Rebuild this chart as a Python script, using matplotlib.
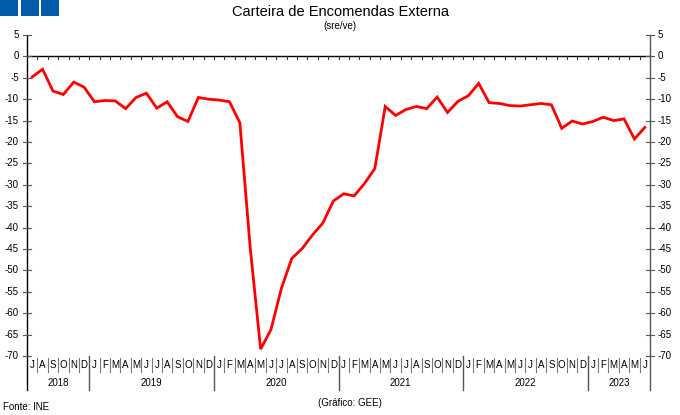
import numpy as np
import matplotlib
matplotlib.use('Agg')
import matplotlib.pyplot as plt
from matplotlib.patches import Rectangle

plt.rcParams['font.family'] = ['Liberation Sans', 'DejaVu Sans']

# monthly series, Jul 2018 .. Jun 2023 (sre/ve)
values = [
    -4.8, -3.0, -8.1, -8.9, -6.0, -7.2,                                         # 2018 J-D
    -10.6, -10.3, -10.4, -12.2, -9.6, -8.6, -12.1, -10.6, -14.1, -15.2, -9.6, -10.0,  # 2019
    -10.2, -10.6, -15.5, -44.8, -68.4, -63.8, -54.2, -47.2, -44.9, -41.7, -38.9, -33.8,  # 2020
    -32.1, -32.6, -29.7, -26.2, -11.7, -13.8, -12.4, -11.7, -12.2, -9.5, -13.1, -10.5,  # 2021
    -9.2, -6.3, -10.8, -11.0, -11.5, -11.6, -11.3, -11.0, -11.3, -16.8, -15.1, -15.8,  # 2022
    -15.2, -14.2, -15.0, -14.6, -19.3, -16.6,                                   # 2023 J-J
]
month_letters = list("JASOND") + list("JFMAMJJASOND") * 4 + list("JFMAMJ")
years = ['2018', '2019', '2020', '2021', '2022', '2023']
year_bounds = [0, 6, 18, 30, 42, 54, 60]
y_ticks = list(range(-70, 6, 5))

fig = plt.figure(figsize=(6.8, 4.15), dpi=100)
W, H = 680, 415
ax = fig.add_axes([27 / W, 1 - 356 / H, (650 - 27) / W, (356 - 35) / H])

n = len(values)
x = np.arange(n) + 0.5
ax.plot(x, values, color='#FF0000', linewidth=2.0, solid_joinstyle='miter', zorder=3)

ax.set_xlim(0, n)
ax.set_ylim(-70, 5)
for s in ax.spines.values():
    s.set_visible(False)
ax.set_xticks([])
ax.set_yticks([])

ppu = (356 - 35) / 75.0  # pixels per unit
def px(p):
    return p / ppu

lc = '#333333'
# zero line with month ticks
ax.plot([0, n], [0, 0], color='black', linewidth=1.0, clip_on=False, zorder=2)
for k in range(1, n):
    ax.plot([k, k], [0, -px(3)], color=lc, linewidth=0.8, clip_on=False)

# side axes extending below the plot
y_bottom = -70 - px(34)
for xs in (0, n):
    ax.plot([xs, xs], [5, y_bottom], color='#555555' if xs else 'black',
            linewidth=1.0, clip_on=False)
dx = n / (650 - 27)
for t in y_ticks:
    ax.plot([-4 * dx, 4 * dx], [t, t], color='#555555', linewidth=0.8, clip_on=False)
    ax.plot([n - 4 * dx, n + 4 * dx], [t, t], color='#555555', linewidth=0.8, clip_on=False)
    ax.text(-8 * dx, t, str(t), ha='right', va='center', fontsize=7)
    ax.text(n + 8 * dx, t, str(t), ha='left', va='center', fontsize=7)

# month labels and separators
for k in range(1, n):
    if k in year_bounds:
        ax.plot([k, k], [-70, y_bottom], color='#555555', linewidth=1.0, clip_on=False)
    else:
        ax.plot([k, k], [-70 - px(2), -70 - px(16)], color='#777777',
                linewidth=0.8, clip_on=False)
for i, m in enumerate(month_letters):
    ax.text(i + 0.5, -70 - px(9), m, ha='center', va='center', fontsize=7)
for j, yr in enumerate(years):
    ax.text((year_bounds[j] + year_bounds[j + 1]) / 2, -70 - px(27), yr,
            ha='center', va='center', fontsize=7)

# header squares
for i in range(3):
    fig.patches.append(Rectangle((i * 20.5 / W, 1 - 16 / H), 18 / W, 16 / H,
                                 transform=fig.transFigure, facecolor='#005BAA',
                                 edgecolor='none', antialiased=False))

fig.text(341 / W, 1 - 12 / H, 'Carteira de Encomendas Externa', ha='center',
         va='center', fontsize=10.5)
fig.text(340 / W, 1 - 26 / H, '(sre/ve)', ha='center', va='center', fontsize=7)
fig.text(3 / W, 1 - 407 / H, 'Fonte: INE', ha='left', va='center', fontsize=7)
fig.text(350 / W, 1 - 403 / H, '(Gráfico: GEE)', ha='center', va='center', fontsize=7)

fig.savefig('out.png', dpi=100)
